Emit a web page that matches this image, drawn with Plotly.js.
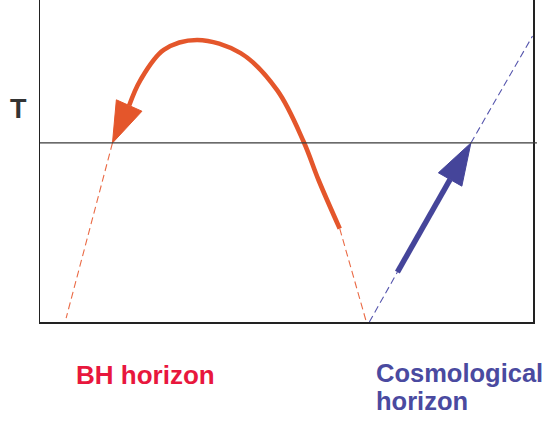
<!DOCTYPE html>
<html><head><meta charset="utf-8">
<script src="https://cdn.plot.ly/plotly-3.0.1.min.js"></script>
<style>html,body{margin:0;padding:0;background:#fff}#chart{width:553px;height:421px}</style>
</head><body><div id="chart"></div>
<script>
// ---- data (axis units 0..100) ----
// BH horizon trajectory: thick arc from lower-right end up over the top to the arrow tip
const bhArcX = [60.8, 56.5, 53.5, 48.1, 40.7, 31.9, 25.1, 20.4, 14.7];
const bhArcY = [29.0, 44.1, 55.9, 72.0, 83.5, 87.6, 84.5, 75.2, 55.6];
// dashed extensions of the BH curve down to the bottom axis
const bhLeftDashEnd = [5.3, 1.2];
const bhRightDashEnd = [66.2, 0];
// Cosmological horizon: straight line (start, thick start, arrow tip, top end)
const cosmoX = [66.8, 72.5, 87.4, 99.9];
const cosmoY = [0, 15.5, 55.6, 88.8];
// temperature level T
const T_level = 55.6;
const labels = {T: "T", bh: "BH horizon", cosmo1: "Cosmological", cosmo2: "horizon"};

// ---- geometry / style ----
const W = 553, H = 421, M = {l: 40, r: 20, t: 0, b: 99};
const PW = W - M.l - M.r, PH = H - M.t - M.b;
const XR = [0, 100], YR = [0, 100];
const ORANGE = "#e4562b", ORANGE_D = "#ea6a45", BLUE = "#45459a", BLUE_D = "#5656ad";

function arrowHead(x0, y0, x1, y1, len, wid) {
  const sx = PW / (XR[1] - XR[0]), sy = PH / (YR[1] - YR[0]);
  const dx = (x1 - x0) * sx, dy = (y1 - y0) * sy, d = Math.hypot(dx, dy);
  const ux = dx / d, uy = dy / d, nx = -uy, ny = ux;
  const bx = x1 * sx - ux * len, by = y1 * sy - uy * len;
  return {
    x: [x1, (bx + nx * wid / 2) / sx, (bx - nx * wid / 2) / sx, x1],
    y: [y1, (by + ny * wid / 2) / sy, (by - ny * wid / 2) / sy, y1],
    base: [bx / sx, by / sy]
  };
}

const n = bhArcX.length;
const bhHead = arrowHead(bhArcX[n - 2], bhArcY[n - 2], bhArcX[n - 1], bhArcY[n - 1], 41, 28);
const cHead = arrowHead(cosmoX[1], cosmoY[1], cosmoX[2], cosmoY[2], 42, 27);
const shaftX = bhArcX.slice(0, n - 1).concat([bhHead.base[0]]);
const shaftY = bhArcY.slice(0, n - 1).concat([bhHead.base[1]]);

const traces = [
  {x: [bhArcX[n - 1], bhLeftDashEnd[0]], y: [bhArcY[n - 1], bhLeftDashEnd[1]], mode: "lines",
   line: {color: ORANGE_D, width: 1.1, dash: "7px,4px"}},
  {x: [bhArcX[0], bhRightDashEnd[0]], y: [bhArcY[0], bhRightDashEnd[1]], mode: "lines",
   line: {color: ORANGE_D, width: 1.1, dash: "7px,4px"}},
  {x: [cosmoX[0], cosmoX[1]], y: [cosmoY[0], cosmoY[1]], mode: "lines",
   line: {color: BLUE_D, width: 1.1, dash: "7px,4px"}},
  {x: [cosmoX[2], cosmoX[3]], y: [cosmoY[2], cosmoY[3]], mode: "lines",
   line: {color: BLUE_D, width: 1.1, dash: "7px,4px"}},
  {x: shaftX, y: shaftY, mode: "lines",
   line: {color: ORANGE, width: 4.6, shape: "spline", smoothing: 1}},
  {x: bhHead.x, y: bhHead.y, mode: "lines", fill: "toself", fillcolor: ORANGE,
   line: {color: ORANGE, width: 1}},
  {x: [cosmoX[1], cHead.base[0]], y: [cosmoY[1], cHead.base[1]], mode: "lines",
   line: {color: BLUE, width: 5.5}},
  {x: cHead.x, y: cHead.y, mode: "lines", fill: "toself", fillcolor: BLUE,
   line: {color: BLUE, width: 1}}
];

const font = "Liberation Sans, Arial, sans-serif";
const py = v => (PH - v) / PH;
const px = v => (v - M.l) / PW;

const layout = {
  width: W, height: H, margin: M, showlegend: false, hovermode: false,
  paper_bgcolor: "#fff", plot_bgcolor: "#fff",
  xaxis: {range: XR, showgrid: false, zeroline: false, showticklabels: false, ticks: "",
          showline: true, linecolor: "#222", linewidth: 1.5, mirror: false, fixedrange: true},
  yaxis: {range: YR, showgrid: false, zeroline: false, showticklabels: false, ticks: "",
          showline: true, linecolor: "#222", linewidth: 1.5, mirror: true, fixedrange: true},
  shapes: [{type: "line", xref: "paper", yref: "y", x0: 0, x1: 1.008, y0: T_level, y1: T_level,
            line: {color: "#3a3a3a", width: 1.2}}],
  annotations: [
    {text: "<b>" + labels.T + "</b>", xref: "paper", yref: "paper", x: px(18.5), y: py(109),
     xanchor: "center", yanchor: "middle", showarrow: false,
     font: {family: font, size: 27, color: "#333"}},
    {text: "<b>" + labels.bh + "</b>", xref: "paper", yref: "paper", x: px(74), y: py(375),
     xanchor: "left", yanchor: "middle", showarrow: false,
     font: {family: font, size: 26, color: "#e8173d"}},
    {text: "<b>" + labels.cosmo1 + "</b>", xref: "paper", yref: "paper", x: px(374.5), y: py(372.5),
     xanchor: "left", yanchor: "middle", showarrow: false, borderpad: 0,
     font: {family: font, size: 25.5, color: "#4a4aa0"}},
    {text: "<b>" + labels.cosmo2 + "</b>", xref: "paper", yref: "paper", x: px(374.5), y: py(401),
     xanchor: "left", yanchor: "middle", showarrow: false, borderpad: 0,
     font: {family: font, size: 25.5, color: "#4a4aa0"}}
  ]
};

Plotly.newPlot("chart", traces, layout, {staticPlot: true, displayModeBar: false});
</script></body></html>
